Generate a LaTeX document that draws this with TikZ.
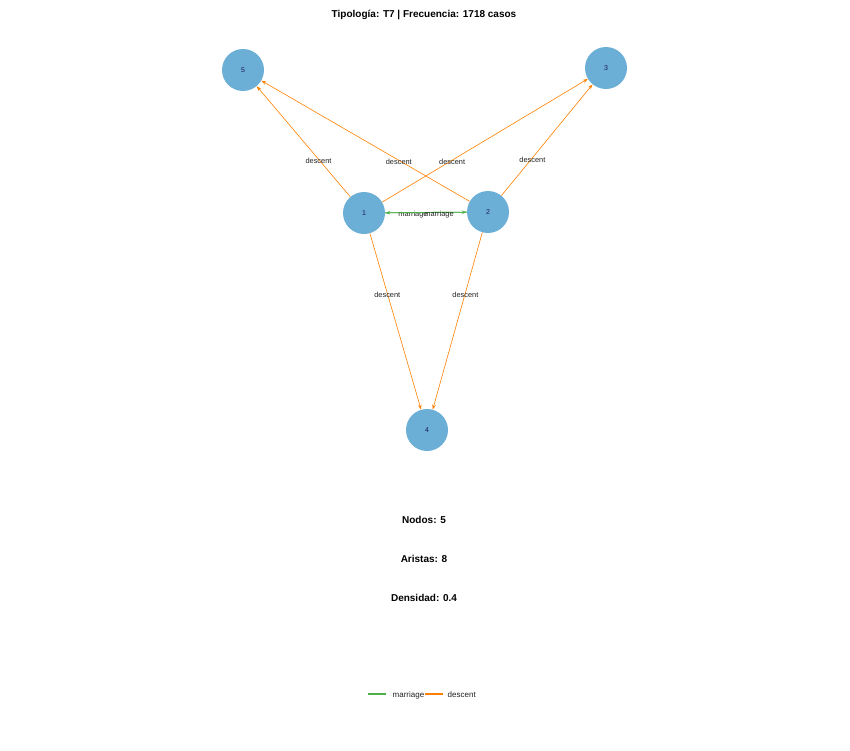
\documentclass[tikz,border=0pt]{standalone}
\usepackage{fontspec}
\setmainfont{Liberation Sans}
\usepackage{tikz}
\usetikzlibrary{arrows.meta,positioning}
\definecolor{nodeblue}{HTML}{6BAED6}
\definecolor{descorange}{HTML}{FF7F00}
\definecolor{margreen}{HTML}{4DAF4A}
\definecolor{labink}{HTML}{222222}
\tikzset{
  vertex/.style={circle,fill=nodeblue,minimum size=42pt,inner sep=0pt,font=\fontsize{7}{8}\selectfont,text=labink!80!blue},
  descent/.style={descorange,line width=0.6pt,-{Stealth[length=5pt,width=3.5pt]}},
  marriage/.style={margreen,line width=0.9pt,-{Stealth[length=5pt,width=3.5pt]}},
  elabel/.style={font=\fontsize{7.4}{8}\selectfont,text=labink,inner sep=0.5pt,pos=0.34,yshift=-2pt},
  legtext/.style={font=\fontsize{8}{9}\selectfont,text=labink,inner sep=0.5pt,anchor=west},
  stat/.style={font=\bfseries\fontsize{10}{12}\selectfont}
}

\begin{document}
\begin{tikzpicture}[x=1pt,y=-1pt]
  \useasboundingbox (0,0) rectangle (850,750);
  \node[stat] (title) at (424,15) {Tipología: T7 | Frecuencia: 1718 casos};
  % vertices
  \node[vertex] (n1) at (364,213) {1};
  \node[vertex] (n2) at (488,212) {2};
  \node[vertex] (n3) at (606,68) {3};
  \node[vertex] (n4) at (427,430) {4};
  \node[vertex] (n5) at (243,70) {5};
  % descent edges
  \draw[descent] (n1) -- node[elabel] {descent} (n5);
  \draw[descent] (n2) -- node[elabel] {descent} (n5);
  \draw[descent] (n1) -- node[elabel] {descent} (n3);
  \draw[descent] (n2) -- node[elabel] {descent} (n3);
  \draw[descent] (n1) -- node[elabel] {descent} (n4);
  \draw[descent] (n2) -- node[elabel] {descent} (n4);
  % marriage edges
  \draw[marriage] (n1) -- node[elabel] {marriage} (n2);
  \draw[marriage] (n2) -- node[elabel] {marriage} (n1);
  % summary
  \node[stat] (nodos) at (424,520) {Nodos: 5};
  \node[stat] (aristas) at (424,559) {Aristas: 8};
  \node[stat] (dens) at (424,598) {Densidad: 0.4};
  % legend
  \coordinate (lm1) at (368,694);
  \coordinate (lm2) at (386,694);
  \coordinate (ld1) at (425,694);
  \coordinate (ld2) at (443,694);
  \draw[margreen,line width=2.5pt] (lm1) -- (lm2);
  \node[legtext] (legm) at (392,695) {marriage};
  \draw[descorange,line width=2.5pt] (ld1) -- (ld2);
  \node[legtext] (legd) at (447,695) {descent};
\end{tikzpicture}
\end{document}
